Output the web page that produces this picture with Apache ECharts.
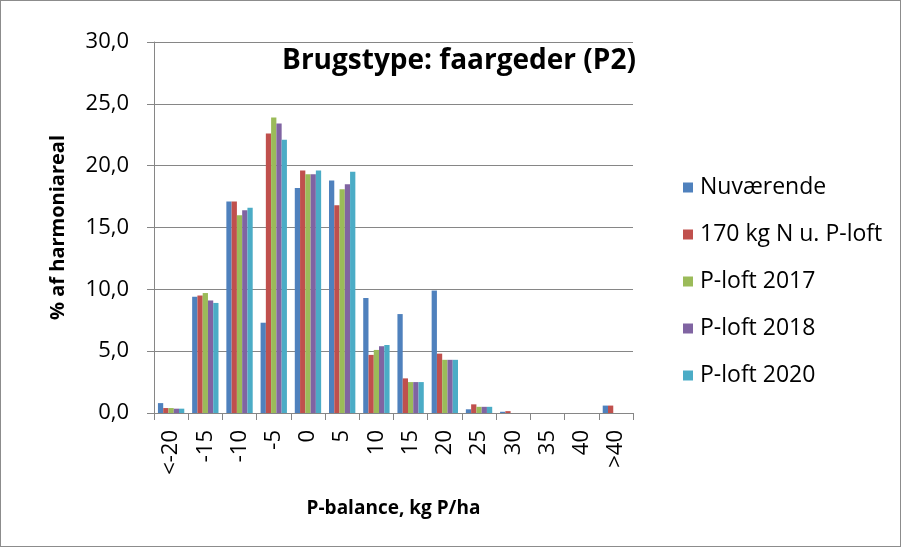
<!DOCTYPE html>
<html>
<head>
<meta charset="utf-8">
<title>Brugstype: faargeder (P2)</title>
<script src="https://cdn.jsdelivr.net/npm/echarts@6/dist/echarts.min.js"></script>
<style>
  html, body { margin: 0; padding: 0; background: #fff; }
  #chart { width: 901px; height: 547px; box-sizing: border-box; border: 1px solid #8c8c8c; }
</style>
</head>
<body>
<div id="chart"></div>
<script>
// P-balance classes (kg P/ha)
const categories = ['<-20', '-15', '-10', '-5', '0', '5', '10', '15', '20', '25', '30', '35', '40', '>40'];

const seriesNames = ['Nuværende', '170 kg N u. P-loft', 'P-loft 2017', 'P-loft 2018', 'P-loft 2020'];

// % af harmoniareal
const nuvaerende = [0.8, 9.4, 17.1, 7.3, 18.2, 18.8, 9.3, 8.0, 9.9, 0.3, 0.1, 0, 0, 0.6];
const kg170 = [0.4, 9.5, 17.1, 22.6, 19.6, 16.8, 4.7, 2.8, 4.8, 0.7, 0.15, 0, 0, 0.6];
const ploft2017 = [0.4, 9.7, 16.0, 23.9, 19.3, 18.1, 5.1, 2.5, 4.3, 0.5, 0, 0, 0, 0];
const ploft2018 = [0.35, 9.1, 16.4, 23.4, 19.3, 18.5, 5.4, 2.5, 4.3, 0.5, 0, 0, 0, 0];
const ploft2020 = [0.35, 8.9, 16.6, 22.1, 19.6, 19.5, 5.5, 2.5, 4.3, 0.5, 0, 0, 0, 0];

const colors = ['#4f81bd', '#c0504d', '#9bbb59', '#8064a2', '#4bacc6'];
const font = '"Open Sans", Lato, sans-serif';
const axisGray = '#868686';

const chart = echarts.init(document.getElementById('chart'));

const allData = [nuvaerende, kg170, ploft2017, ploft2018, ploft2020];

chart.setOption({
  animation: false,
  color: colors,
  title: {
    text: 'Brugstype: faargeder (P2)',
    left: 453,
    top: 41,
    textAlign: 'center',
    textStyle: { fontFamily: font, fontSize: 28, fontWeight: 'bold', color: '#000' }
  },
  legend: {
    orient: 'vertical',
    left: 677,
    top: 170,
    itemWidth: 10,
    itemHeight: 10,
    itemGap: 24,
    icon: 'rect',
    data: seriesNames,
    textStyle: { fontFamily: font, fontSize: 23, color: '#000', padding: [0, 0, 0, 2] }
  },
  grid: {
    left: 153,
    right: 267,
    top: 41,
    bottom: 133,
    containLabel: false
  },
  xAxis: {
    type: 'category',
    data: categories,
    name: 'P-balance, kg P/ha',
    nameLocation: 'middle',
    nameGap: 86,
    nameTextStyle: { fontFamily: font, fontSize: 19, fontWeight: 'bold', color: '#000' },
    axisLine: { lineStyle: { color: axisGray, width: 1 } },
    axisTick: { show: true, length: 7, alignWithLabel: false, lineStyle: { color: axisGray } },
    axisLabel: {
      rotate: 90,
      interval: 0,
      margin: 17,
      fontFamily: font,
      fontSize: 22,
      color: '#000'
    }
  },
  yAxis: {
    type: 'value',
    min: 0,
    max: 30,
    interval: 5,
    name: '% af harmoniareal',
    nameLocation: 'middle',
    nameGap: 86,
    nameRotate: 90,
    nameTextStyle: { fontFamily: font, fontSize: 20, fontWeight: 'bold', color: '#000' },
    axisLine: { show: true, lineStyle: { color: axisGray, width: 1 } },
    axisTick: { show: true, length: 7, lineStyle: { color: axisGray } },
    splitLine: { lineStyle: { color: axisGray, width: 1 } },
    axisLabel: {
      margin: 25,
      fontFamily: font,
      fontSize: 22,
      color: '#000',
      formatter: v => v.toFixed(1).replace('.', ',')
    }
  },
  series: seriesNames.map((name, i) => ({
    name,
    type: 'bar',
    data: allData[i],
    barGap: '0%',
    barCategoryGap: '23%',
    itemStyle: { color: colors[i] }
  }))
});
</script>
</body>
</html>
